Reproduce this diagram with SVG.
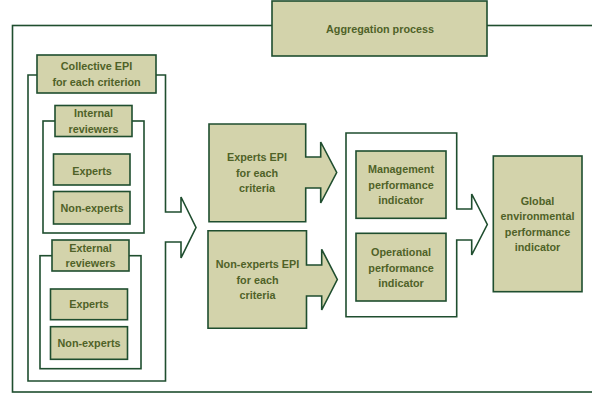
<svg xmlns="http://www.w3.org/2000/svg" width="592" height="398" viewBox="0 0 592 398">
<style>
.box{fill:#d3d3ab;stroke:#1f4e2f;stroke-width:1.6}
.frame{fill:#ffffff;stroke:#1f4e2f;stroke-width:1.6}
text{font-family:"Liberation Sans",Arial,sans-serif;font-weight:bold;font-size:10.8px;fill:#4f6228;text-anchor:middle}
</style>
<rect width="592" height="398" fill="#ffffff"/>
<g id="outer-frame">
<rect class="frame" x="12.5" y="25.5" width="600" height="366.5"/>
</g>
<g id="aggregation-process">
<rect class="box" x="272" y="1" width="215" height="55"/>
<text x="380" y="33">Aggregation process</text>
</g>
<g id="collective-epi">
<path class="frame" d="M28,75 H165.5 V212 H181 V197 L196,227.5 L181,258 V242 H165.5 V381 H28 Z"/>
<rect class="box" x="37" y="55" width="119" height="38"/>
<text x="96.5" y="70">Collective EPI</text>
<text x="96.5" y="86">for each criterion</text>
</g>
<g id="internal-reviewers">
<rect class="frame" x="43" y="121" width="101" height="112"/>
<rect class="box" x="55" y="105.5" width="77" height="31"/>
<text x="93.5" y="117">Internal</text>
<text x="93.5" y="133">reviewers</text>
</g>
<g id="internal-experts">
<rect class="box" x="53.5" y="154" width="76.5" height="31"/>
<text x="92" y="174.5">Experts</text>
</g>
<g id="internal-non-experts">
<rect class="box" x="53.5" y="191.5" width="76.5" height="32.5"/>
<text x="92" y="212">Non-experts</text>
</g>
<g id="external-reviewers">
<rect class="frame" x="40" y="255.7" width="101" height="113"/>
<rect class="box" x="52" y="240" width="77" height="31"/>
<text x="90.5" y="252.3">External</text>
<text x="90.5" y="266.7">reviewers</text>
</g>
<g id="external-experts">
<rect class="box" x="50.5" y="289" width="77" height="30.7"/>
<text x="89" y="308.3">Experts</text>
</g>
<g id="external-non-experts">
<rect class="box" x="50.5" y="326.7" width="77" height="32.6"/>
<text x="89" y="347.3">Non-experts</text>
</g>
<g id="experts-epi">
<path class="box" d="M209,124 H305.7 V157 H320.7 V142 L336.7,172.5 L320.7,203 V188 H305.7 V221.7 H209 Z"/>
<text x="257" y="161">Experts EPI</text>
<text x="257" y="177">for each</text>
<text x="257" y="192">criteria</text>
</g>
<g id="non-experts-epi">
<path class="box" d="M208,230.7 H306.5 V265 H321.7 V249.3 L337.3,279.5 L321.7,310 V296 H306.5 V328.3 H208 Z"/>
<text x="257.5" y="268.3">Non-experts EPI</text>
<text x="257.5" y="284">for each</text>
<text x="257.5" y="299">criteria</text>
</g>
<g id="performance-indicators">
<path class="frame" d="M346,133 H456.7 V209 H471.7 V194 L487.3,224.5 L471.7,255 V240 H456.7 V316.7 H346 Z"/>
</g>
<g id="management-indicator">
<rect class="box" x="356" y="151" width="90" height="67.3"/>
<text x="401" y="173">Management</text>
<text x="401" y="189">performance</text>
<text x="401" y="204">indicator</text>
</g>
<g id="operational-indicator">
<rect class="box" x="356" y="233.3" width="90" height="67.7"/>
<text x="401" y="256.3">Operational</text>
<text x="401" y="272">performance</text>
<text x="401" y="287">indicator</text>
</g>
<g id="global-indicator">
<rect class="box" x="493.3" y="156" width="88.7" height="135.7"/>
<text x="537.5" y="205">Global</text>
<text x="537.5" y="220">environmental</text>
<text x="537.5" y="236">performance</text>
<text x="537.5" y="251">indicator</text>
</g>
<g id="connectors"></g>
</svg>
